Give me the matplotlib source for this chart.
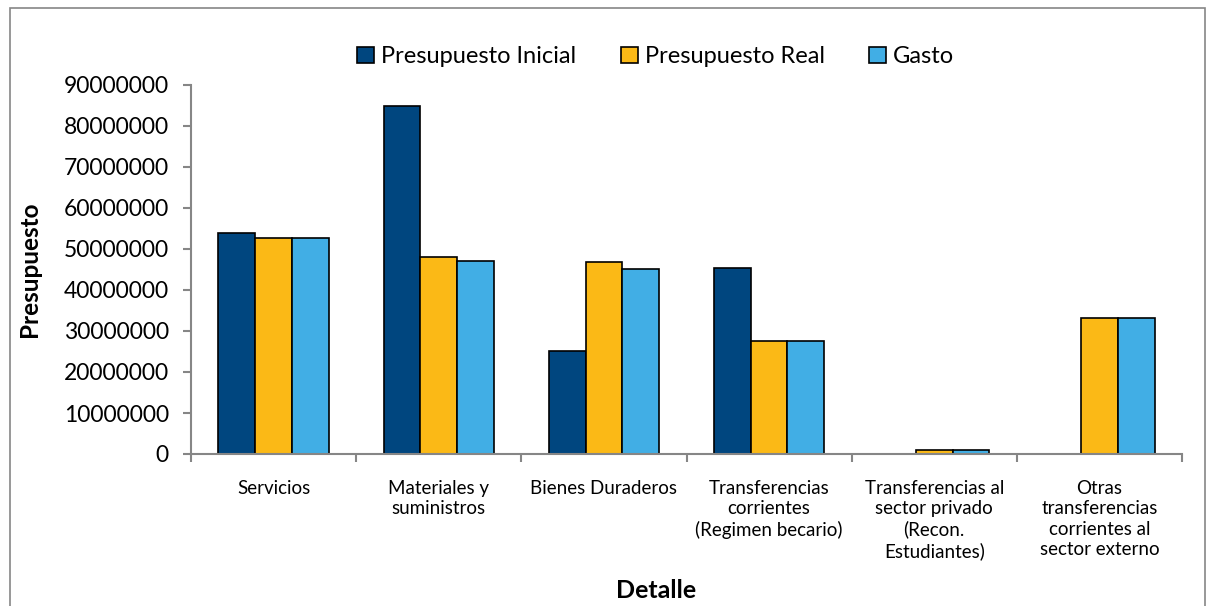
import matplotlib.pyplot as plt
import numpy as np
from matplotlib.patches import Rectangle

plt.rcParams['font.family'] = ['Lato', 'DejaVu Sans']

categorias = ["Servicios", "Materiales y\nsuministros", "Bienes Duraderos",
              "Transferencias\ncorrientes\n(Regimen becario)",
              "Transferencias al\nsector privado\n(Recon.\nEstudiantes)",
              "Otras\ntransferencias\ncorrientes al\nsector externo"]
presupuesto_inicial = [53900000, 84900000, 25200000, 45400000, 0, 0]
presupuesto_real = [52700000, 48000000, 46900000, 27600000, 1000000, 33200000]
gasto = [52700000, 47100000, 45200000, 27600000, 1000000, 33200000]

series = [("Presupuesto Inicial", presupuesto_inicial, "#00467f"),
          ("Presupuesto Real", presupuesto_real, "#fbb916"),
          ("Gasto", gasto, "#41aee5")]

fig = plt.figure(figsize=(12.13, 6.06), dpi=100)
ax = fig.add_axes([191 / 1213, 1 - 454 / 606, (1182 - 191) / 1213, (454 - 85) / 606])

x = np.arange(len(categorias))
w = 0.223
for i, (nombre, vals, color) in enumerate(series):
    ax.bar(x + (i - 1) * w, vals, w, color=color, edgecolor="black",
           linewidth=1.2, label=nombre)

ax.set_xlim(-0.5, len(categorias) - 0.5)
ax.set_ylim(0, 90000000)
ax.set_yticks(np.arange(0, 90000001, 10000000))
ax.set_yticklabels([str(v) for v in range(0, 90000001, 10000000)], fontsize=16.5)
ax.set_xticks(x)
ax.set_xticklabels(categorias, fontsize=13.5, va="top", linespacing=1.22)
ax.set_xticks(np.arange(-0.5, len(categorias)), minor=True)
ax.tick_params(axis="x", which="major", length=0, pad=19)
ax.tick_params(axis="x", which="minor", length=6, color="#868686", width=1.5)
ax.tick_params(axis="y", length=6, color="#868686", width=1.5, pad=10)

for s in ["top", "right"]:
    ax.spines[s].set_visible(False)
for s in ["left", "bottom"]:
    ax.spines[s].set_color("#868686")
    ax.spines[s].set_linewidth(1.5)

ax.set_ylabel("Presupuesto", fontsize=17.5, fontweight="bold")
ax.yaxis.set_label_coords(-0.151, 0.5)
ax.set_xlabel("Detalle", fontsize=18, fontweight="bold")
ax.xaxis.set_label_coords(0.469, -0.34)

ax.legend(loc="center", bbox_to_anchor=(0.469, 1.076), ncol=3, frameon=False,
          fontsize=17, handlelength=0.7, handleheight=0.7, handletextpad=0.3,
          columnspacing=1.9)

fig.patches.append(Rectangle((10 / 1213, -0.01), 1195 / 1213, 1 - 8 / 606 + 0.01,
                             transform=fig.transFigure, fill=False,
                             edgecolor="#868686", linewidth=1.2))

fig.savefig("out.png", dpi=100)
